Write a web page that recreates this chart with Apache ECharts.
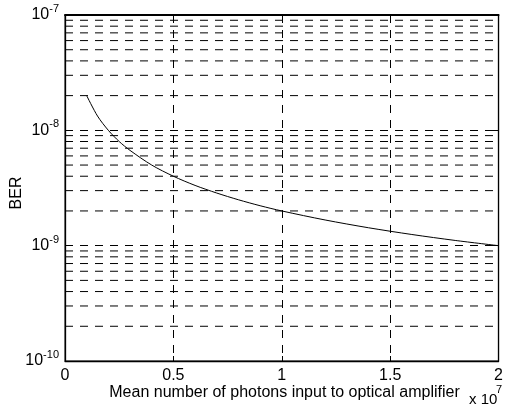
<!DOCTYPE html>
<html>
<head>
<meta charset="utf-8">
<script src="https://cdn.jsdelivr.net/npm/echarts@6/dist/echarts.min.js"></script>
<style>
html,body{margin:0;padding:0;background:#fff;}
#chart{width:506px;height:409px;}
</style>
</head>
<body>
<div id="chart"></div>
<script>
// x in units of 1e7 photons
const xValues = [0.1, 0.15, 0.2, 0.25, 0.3, 0.4, 0.5, 0.6, 0.7, 0.8, 0.9, 1.0, 1.2, 1.4, 1.6, 1.8, 2.0];
const berValues = [2.0e-8, 1.33e-8, 1.0e-8, 8.0e-9, 6.7e-9, 5.0e-9, 4.0e-9, 3.33e-9, 2.86e-9, 2.5e-9, 2.22e-9, 2.0e-9, 1.67e-9, 1.43e-9, 1.25e-9, 1.11e-9, 1.0e-9];
const xTickLabels = ['0', '0.5', '1', '1.5', '2'];
const yMinorGrid = [2e-10,3e-10,4e-10,5e-10,6e-10,7e-10,8e-10,9e-10,
                    2e-9,3e-9,4e-9,5e-9,6e-9,7e-9,8e-9,9e-9,
                    2e-8,3e-8,4e-8,5e-8,6e-8,7e-8,8e-8,9e-8];
const xLabel = 'Mean number of photons input to optical amplifier';
const yLabel = 'BER';

const FONT = 'Arial, "Liberation Sans", Helvetica, sans-serif';
const dash = {color:'#000', width:1, type:[8,7]};

const chart = echarts.init(document.getElementById('chart'), null, {renderer:'canvas'});
const gridBox = {left:65, right:2, top:15, bottom:48};

function yFmt(v){
  const e = Math.round(Math.log10(v));
  return '{b|10}{s|' + e + '}';
}
const yRich = {
  b:{fontSize:16, fontFamily:FONT, color:'#000'},
  s:{fontSize:11, fontFamily:FONT, color:'#000', padding:[0,0,12,0]}
};

const option = {
  animation:false,
  backgroundColor:'#fff',
  grid: Object.assign({show:true, borderColor:'#000', borderWidth:1, backgroundColor:'transparent'}, gridBox),
  xAxis:[{
    type:'value', min:0, max:2, interval:0.5, position:'bottom',
    axisLine:{show:true, onZero:false, lineStyle:{color:'#000', width:1.3}},
    axisTick:{show:true, inside:true, length:5, lineStyle:{color:'#000'}},
    axisLabel:{color:'#000', fontSize:16, fontFamily:FONT, margin:7,
      formatter:(v)=>xTickLabels[Math.round(v/0.5)]},
    splitLine:{show:true, lineStyle:dash}
  },{
    type:'value', min:0, max:2, interval:0.5, position:'top',
    axisLine:{show:true, onZero:false, lineStyle:{color:'#000', width:2}},
    axisTick:{show:true, inside:true, length:5, lineStyle:{color:'#000'}},
    axisLabel:{show:false}, splitLine:{show:false}
  }],
  yAxis:[{
    type:'log', min:1e-10, max:1e-7, logBase:10, position:'left',
    axisLine:{show:true, onZero:false, lineStyle:{color:'#000', width:1.3}},
    axisTick:{show:true, inside:true, length:6, lineStyle:{color:'#000'}},
    axisLabel:{formatter:yFmt, rich:yRich, margin:6},
    splitLine:{show:true, lineStyle:dash}
  },{
    type:'log', min:1e-10, max:1e-7, logBase:10, position:'right',
    axisLine:{show:true, onZero:false, lineStyle:{color:'#000', width:1.3}},
    axisTick:{show:true, inside:true, length:6, lineStyle:{color:'#000'}},
    axisLabel:{show:false}, splitLine:{show:false}
  }],
  series:[{
    type:'custom',
    xAxisIndex:0, yAxisIndex:0,
    silent:true,
    data: yMinorGrid.map(v=>[0, v]),
    encode:{x:0, y:1},
    renderItem:function(params, api){
      const v = api.value(1);
      const p1 = api.coord([0, v]);
      const p2 = api.coord([2, v]);
      return {type:'line', shape:{x1:p1[0], y1:p1[1], x2:p2[0], y2:p2[1]},
        style:{stroke:'#000', lineWidth:1, lineDash:[8,7]}};
    },
    z:1
  },{
    type:'line',
    xAxisIndex:0, yAxisIndex:0,
    data: xValues.map((x,i)=>[x, berValues[i]]),
    smooth:0.3,
    showSymbol:false, symbol:'none',
    lineStyle:{color:'#000', width:1},
    z:5
  }],
  graphic:[
    {type:'text', x:284.5, y:393, style:{text:xLabel, font:'16px '+FONT, fill:'#000', textAlign:'center', textVerticalAlign:'middle'}},
    {type:'text', x:17, y:193, rotation:Math.PI/2, style:{text:yLabel, font:'16px '+FONT, fill:'#000', textAlign:'center', textVerticalAlign:'middle'}},
    {type:'text', x:469, y:400, style:{text:'x 10', font:'15px '+FONT, fill:'#000', textVerticalAlign:'middle'}},
    {type:'text', x:496, y:390, style:{text:'7', font:'11px '+FONT, fill:'#000', textVerticalAlign:'middle'}}
  ]
};
chart.setOption(option);
</script>
</body>
</html>
